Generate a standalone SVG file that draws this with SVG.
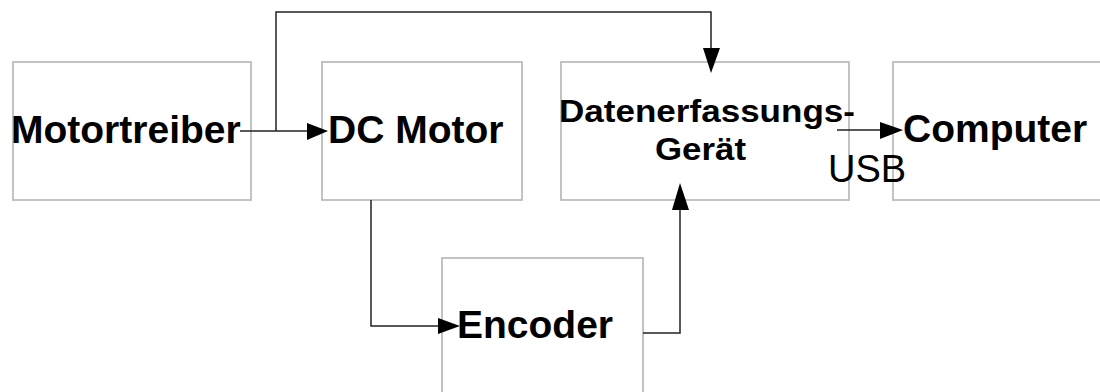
<svg xmlns="http://www.w3.org/2000/svg" width="1100" height="392" viewBox="0 0 1100 392">
<style>
.box{fill:#fff;stroke:#b4b4b4;stroke-width:1.6}
.lbl{font-family:"Liberation Sans",Arial,sans-serif;font-weight:bold;font-size:39px;fill:#000}
.sm{font-family:"Liberation Sans",Arial,sans-serif;font-weight:bold;font-size:32px;fill:#000}
.usb{font-family:"Liberation Sans",Arial,sans-serif;font-size:38px;fill:#000}
.wire{fill:none;stroke:#222;stroke-width:1.5}
.head{fill:#000;stroke:none}
</style>
<rect width="1100" height="392" fill="#fff"/>
<g id="motortreiber">
<rect class="box" x="13" y="62" width="238" height="138"/>
<text class="lbl" x="11" y="143">Motortreiber</text>
</g>
<g id="dcmotor">
<rect class="box" x="322" y="62" width="200" height="138"/>
<text class="lbl" x="328" y="143">DC Motor</text>
</g>
<g id="datenerfassung">
<rect class="box" x="561" y="62" width="288" height="138"/>
<text class="sm" x="559" y="122" textLength="296" lengthAdjust="spacingAndGlyphs">Datenerfassungs-</text>
<text class="sm" x="655" y="160" textLength="91" lengthAdjust="spacingAndGlyphs">Gerät</text>
</g>
<g id="computer">
<rect class="box" x="893" y="62" width="230" height="138"/>
<text class="lbl" x="903" y="142">Computer</text>
</g>
<g id="encoder">
<rect class="box" x="442" y="258" width="201" height="150"/>
<text class="lbl" x="457" y="338">Encoder</text>
</g>
<g id="connectors">
<path class="wire" d="M240,131 H310"/>
<polygon class="head" points="307,123 328,131 307,140"/>
<path class="wire" d="M276,131 V12 H711 V50"/>
<polygon class="head" points="703,48 711,73 720,48"/>
<path class="wire" d="M371,200 V326 H440"/>
<polygon class="head" points="438,318 460,326 438,334"/>
<path class="wire" d="M643,333 H680 V208"/>
<polygon class="head" points="672,210 680,183 689,210"/>
<path class="wire" d="M837,130 H882"/>
<polygon class="head" points="880,122 903,130 880,139"/>
<text class="usb" x="828" y="182">USB</text>
</g>
</svg>
